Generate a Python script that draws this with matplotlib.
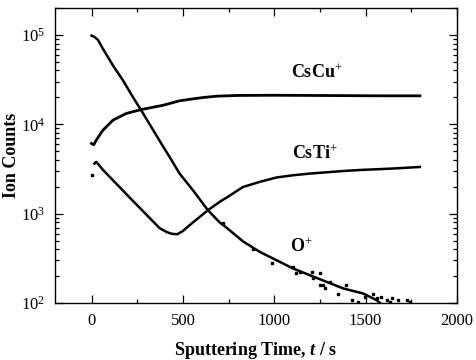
import numpy as np
import matplotlib
matplotlib.use("Agg")
import matplotlib.pyplot as plt
from matplotlib.ticker import MultipleLocator, LogLocator, NullFormatter

# Fonts: Times-like serif everywhere, including mathtext
plt.rcParams["font.family"] = ["Liberation Serif", "DejaVu Serif"]
plt.rcParams["mathtext.fontset"] = "custom"
plt.rcParams["mathtext.rm"] = "Liberation Serif"
plt.rcParams["mathtext.it"] = "Liberation Serif:italic"
plt.rcParams["mathtext.bf"] = "Liberation Serif:bold"
plt.rcParams["mathtext.bfit"] = "Liberation Serif:italic:bold"

# CsCu+ signal
cu_time = [0, 12, 25, 62, 117, 190, 272, 391, 482, 537, 610, 683, 800,
           1000, 1200, 1400, 1600, 1797]
cu_counts = [6100, 5900, 6600, 8570, 11100, 13200, 14600, 16300, 18300,
             19000, 19900, 20600, 21000, 21100, 21000, 20900, 20800, 20800]

# CsTi+ signal
ti_time = [16, 26, 62, 117, 172, 226, 263, 300, 373, 410, 440, 470, 500,
           537, 637, 701, 745, 829, 921, 1012, 1103, 1195, 1377, 1468,
           1650, 1797]
ti_counts = [3640, 3800, 3100, 2370, 1815, 1393, 1167, 977, 689, 625, 595,
             590, 640, 745, 1094, 1355, 1540, 1990, 2270, 2540, 2690, 2810,
             3000, 3080, 3200, 3330]
ti_extra_time = [4]
ti_extra_counts = [2690]

# O+ signal
o_time = [0, 15, 35, 62, 117, 172, 226, 272, 327, 382, 427, 482, 555, 637,
          701, 738, 829, 921, 1012, 1103, 1195, 1286, 1377, 1487, 1560, 1580]
o_counts = [98000, 95000, 88000, 70000, 45600, 31000, 20200, 14300, 9340,
            6080, 4320, 2810, 1830, 1094, 800, 700, 490, 374, 302, 244, 205,
            173, 146, 128, 108, 100]
# scattered O+ points in the noisy tail
o_noise_time = [720, 884, 985, 1103, 1121, 1140, 1204, 1213, 1249, 1249, 1267,
                1277, 1304, 1350, 1395, 1423, 1459, 1496, 1541, 1560, 1587,
                1615, 1633, 1642, 1678, 1724, 1742]
o_noise_counts = [777, 408, 278, 255, 215, 224, 224, 189, 215, 159, 159, 146,
                  173, 128, 159, 108, 103, 118, 128, 113, 118, 108, 103, 113,
                  108, 108, 103]

fig, ax = plt.subplots(figsize=(4.76, 3.6), dpi=100)
fig.subplots_adjust(left=0.1155, right=0.960, top=0.978, bottom=0.158)

ax.plot(cu_time, cu_counts, "k-", lw=2.0)
ax.plot(ti_time, ti_counts, "k-", lw=1.8)
ax.plot(ti_extra_time, ti_extra_counts, "ks", ms=1.6)
ax.plot(o_time, o_counts, "k-", lw=1.8)
ax.plot(o_noise_time, o_noise_counts, "ks", ms=1.6, ls="none")

ax.set_yscale("log")
ax.set_xlim(-200, 2000)
ax.set_ylim(100, 2e5)

ax.xaxis.set_major_locator(MultipleLocator(500))
ax.xaxis.set_minor_locator(MultipleLocator(250))
ax.yaxis.set_major_locator(LogLocator(base=10))
ax.yaxis.set_minor_locator(LogLocator(base=10, subs=np.arange(2, 10)))
ax.yaxis.set_minor_formatter(NullFormatter())

ax.tick_params(which="both", direction="in", top=True, right=True,
               labelsize=12, width=0.9)
ax.tick_params(which="major", length=6, pad=7)
ax.tick_params(which="minor", length=3)
for sp in ax.spines.values():
    sp.set_linewidth(1.0)

ax.text(1233, 38000, r"$\mathbf{CsCu}^{+}$", fontsize=13, ha="center", va="center")
ax.text(1222, 4740, r"$\mathbf{CsTi}^{+}$", fontsize=13, ha="center", va="center")
ax.text(1150, 423, r"$\mathbf{O}^{+}$", fontsize=13, ha="center", va="center")

ax.set_ylabel("Ion Counts", fontsize=13, fontweight="bold")
ax.yaxis.set_label_coords(-0.088, 0.5)
ax.set_xlabel(r"Sputtering Time, $\mathbfit{t}$ / s", fontsize=13,
              fontweight="bold", labelpad=8)

fig.savefig("out.png", dpi=100)
